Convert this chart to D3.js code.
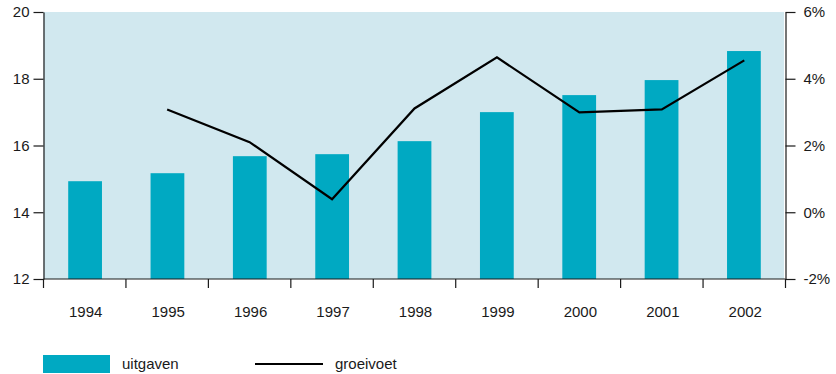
<!DOCTYPE html>
<html>
<head>
<meta charset="utf-8">
<script src="https://cdn.jsdelivr.net/npm/d3@7"></script>
<style>
  body { margin: 0; background: #fff; }
  svg text { font-family: "Liberation Sans", Arial, sans-serif; font-size: 15px; fill: #1a1a1a; }
</style>
</head>
<body>
<svg id="chart" width="836" height="374"></svg>
<script>
// Yearly spending (left axis) and growth rate in percent (right axis)
const years = ["1994", "1995", "1996", "1997", "1998", "1999", "2000", "2001", "2002"];
const uitgaven = [14.93, 15.17, 15.68, 15.74, 16.13, 17.0, 17.51, 17.96, 18.83];
const groeivoet = [null, 3.08, 2.10, 0.39, 3.11, 4.64, 2.99, 3.08, 4.55];
const leftTicks = [12, 14, 16, 18, 20];
const rightTicks = [-2, 0, 2, 4, 6];
const legendLabels = ["uitgaven", "groeivoet"];

const svg = d3.select("#chart");
const plotLeft = 43.5, plotRight = 785.5, plotTop = 12, plotBottom = 279;

const x = d3.scaleBand().domain(years).range([plotLeft, plotRight]).paddingInner(0.59).paddingOuter(0.3);
const xb = d3.scaleBand().domain(years).range([plotLeft, plotRight]);
const yL = d3.scaleLinear().domain([12, 20]).range([plotBottom, plotTop]);
const yR = d3.scaleLinear().domain([-2, 6]).range([plotBottom, plotTop]);

// plot background
svg.append("rect")
  .attr("x", plotLeft).attr("y", plotTop)
  .attr("width", plotRight - plotLeft - 1.5).attr("height", plotBottom - plotTop)
  .attr("fill", "#d1e8ef");

// bars
svg.append("g").selectAll("rect")
  .data(years.map((y, i) => ({ year: y, v: uitgaven[i] })))
  .join("rect")
  .attr("x", d => x(d.year))
  .attr("width", x.bandwidth())
  .attr("y", d => yL(d.v))
  .attr("height", d => yL(12) - yL(d.v))
  .attr("fill", "#00a9c2");

// growth line
const lineData = years.map((y, i) => ({ year: y, v: groeivoet[i] })).filter(d => d.v !== null);
svg.append("path")
  .datum(lineData)
  .attr("fill", "none")
  .attr("stroke", "#000")
  .attr("stroke-width", 2.2)
  .attr("stroke-linejoin", "miter")
  .attr("d", d3.line().x(d => xb(d.year) + xb.bandwidth() / 2).y(d => yR(d.v)));

// axes
const styleAxis = g => {
  g.select(".domain").attr("stroke", "#1a1a1a").attr("stroke-width", 1.2);
  g.selectAll(".tick line").attr("stroke", "#1a1a1a").attr("stroke-width", 1.2);
  g.selectAll("text").attr("fill", "#1a1a1a")
    .style("font-family", "'Liberation Sans', Arial, sans-serif").style("font-size", "15px");
};

svg.append("g")
  .attr("transform", `translate(${plotLeft},0)`)
  .call(d3.axisLeft(yL).tickValues(leftTicks).tickSize(10).tickPadding(4).tickSizeOuter(0))
  .call(styleAxis);

svg.append("g")
  .attr("transform", `translate(${plotRight},0)`)
  .call(d3.axisRight(yR).tickValues(rightTicks).tickSize(10).tickPadding(8).tickSizeOuter(0)
    .tickFormat(d => d + "%"))
  .call(styleAxis);

// bottom axis: ticks fall on category boundaries, labels centred in each category
const xAxis = svg.append("g").attr("transform", `translate(0,${plotBottom})`);
xAxis.append("line")
  .attr("x1", plotLeft).attr("x2", plotRight).attr("y1", 0).attr("y2", 0)
  .attr("stroke", "#1a1a1a").attr("stroke-width", 1.2);
const bounds = years.map(y => xb(y)).concat([plotRight]);
xAxis.selectAll("line.tk").data(bounds).join("line").attr("class", "tk")
  .attr("x1", d => d).attr("x2", d => d).attr("y1", 0).attr("y2", 9)
  .attr("stroke", "#1a1a1a").attr("stroke-width", 1.2);
xAxis.selectAll("text").data(years).join("text")
  .attr("x", d => xb(d) + xb.bandwidth() / 2 + 1)
  .attr("y", 38)
  .attr("text-anchor", "middle")
  .text(d => d);

// legend
const lg = svg.append("g");
lg.append("rect").attr("x", 43).attr("y", 355).attr("width", 67).attr("height", 18).attr("fill", "#00a9c2");
lg.append("text").attr("x", 122).attr("y", 369).text(legendLabels[0]);
lg.append("line").attr("x1", 255).attr("x2", 323).attr("y1", 364).attr("y2", 364)
  .attr("stroke", "#000").attr("stroke-width", 2.2);
lg.append("text").attr("x", 335).attr("y", 369).text(legendLabels[1]);
</script>
</body>
</html>
